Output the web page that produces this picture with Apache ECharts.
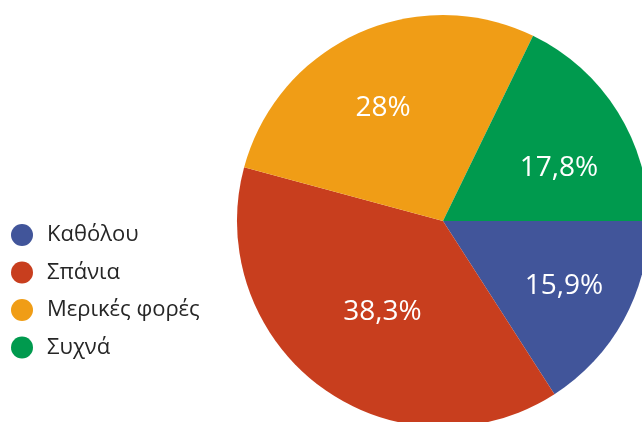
<!DOCTYPE html>
<html>
<head>
<meta charset="utf-8">
<script src="https://cdn.jsdelivr.net/npm/echarts@6/dist/echarts.min.js"></script>
<style>
html,body{margin:0;padding:0;background:#fff;}
#c{width:642px;height:422px;}
</style>
</head>
<body>
<div id="c"></div>
<script>
const categories = ['Καθόλου', 'Σπάνια', 'Μερικές φορές', 'Συχνά'];
const values = [15.9, 38.3, 28, 17.8];
const valueLabels = ['15,9%', '38,3%', '28%', '17,8%'];
const colors = ['#41559A', '#C83E1E', '#F09D16', '#009A4E'];
const labelOffsets = [[28, 14], [2, 5], [-16, -16], [26, 3]];

const chart = echarts.init(document.getElementById('c'), null, {renderer: 'canvas'});
chart.setOption({
  animation: false,
  legend: {
    orient: 'vertical',
    left: 11,
    top: 224,
    padding: 0,
    icon: 'circle',
    itemWidth: 22,
    itemHeight: 22,
    itemGap: 15.5,
    textStyle: { fontFamily: 'Open Sans', fontSize: 22, color: '#262626', padding: [0, 0, 0, 9] },
    data: categories
  },
  series: [{
    type: 'pie',
    center: [443, 221],
    radius: [0, 206],
    startAngle: 0,
    clockwise: true,
    silent: true,
    label: {
      show: true,
      position: 'inside',
      color: '#fff',
      fontFamily: 'Open Sans',
      fontSize: 28
    },
    labelLine: { show: false },
    itemStyle: { borderWidth: 0 },
    data: categories.map((name, i) => ({
      name: name,
      value: values[i],
      itemStyle: { color: colors[i] },
      label: { formatter: valueLabels[i], offset: labelOffsets[i] }
    }))
  }]
});
</script>
</body>
</html>
